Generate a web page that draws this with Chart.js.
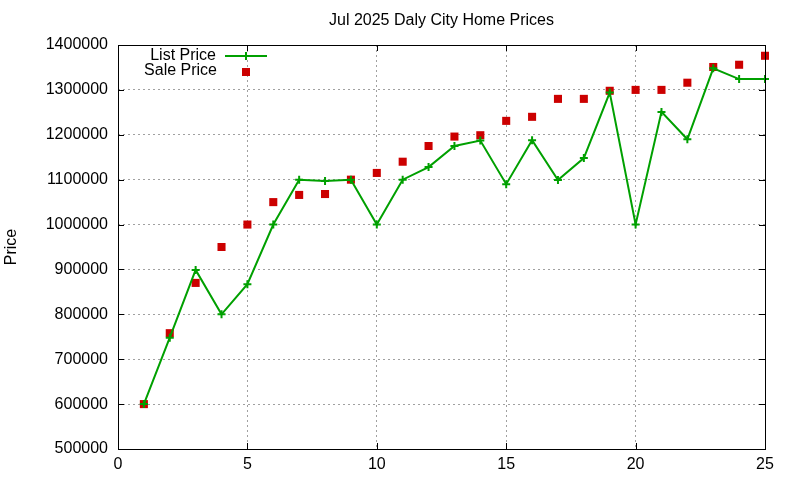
<!DOCTYPE html>
<html>
<head>
<meta charset="utf-8">
<script src="https://cdn.jsdelivr.net/npm/chart.js@4"></script>
<style>
  html, body { margin: 0; padding: 0; background: #fff; }
  #wrap { width: 800px; height: 480px; }
</style>
</head>
<body>
<div id="wrap"><canvas id="chart"></canvas></div>
<script>
// month day index
const days = [1, 2, 3, 4, 5, 6, 7, 8, 9, 10, 11, 12, 13, 14, 15, 16, 17, 18, 19, 20, 21, 22, 23, 24, 25]
const listPrice = [600000, 748000, 899000, 800000, 867000, 1000000, 1100000, 1097000, 1100000, 1000000,
    1100000, 1128000, 1175000, 1187000, 1090000, 1188000, 1099000, 1148000, 1294000, 1000000,
    1251000, 1190000, 1348000, 1324000, 1324000]
const salePrice = [600000, 758000, 870000, 950000, 1000000, 1050000, 1066000, 1068000, 1100000, 1115000,
    1140000, 1175000, 1196000, 1199000, 1231000, 1240000, 1280000, 1280000, 1298000, 1300000,
    1300000, 1316000, 1351000, 1356000, 1376000]
const yTicks = [500000, 600000, 700000, 800000, 900000, 1000000, 1100000, 1200000, 1300000, 1400000]
const xTicks = [0, 5, 10, 15, 20, 25]
const chartTitle = 'Jul 2025 Daly City Home Prices'

const FONT = 'Liberation Sans, Arial, sans-serif'
const GREEN = '#00a000'
const RED = '#cc0000'

const toPoints = vals => vals.map((v, i) => ({ x: days[i], y: v }))

// gnuplot style: title centred over the plot, solid frame, inward ticks, key top left
const framePlugin = {
    id: 'frame',
    afterDatasetsDraw(chart) {
        const { ctx, chartArea: a, scales } = chart
        ctx.save()
        ctx.font = '16px ' + FONT
        ctx.fillStyle = '#000'
        ctx.textAlign = 'center'
        ctx.textBaseline = 'middle'
        ctx.fillText(chartTitle, (a.left + a.right) / 2, 21)

        ctx.strokeStyle = '#000'
        ctx.lineWidth = 1
        ctx.strokeRect(a.left + 0.5, a.top + 0.5, a.right - a.left, a.bottom - a.top)
        ctx.beginPath()
        yTicks.forEach(t => {
            const y = Math.round(scales.y.getPixelForValue(t)) + 0.5
            ctx.moveTo(a.left, y); ctx.lineTo(a.left + 6, y)
            ctx.moveTo(a.right, y); ctx.lineTo(a.right - 6, y)
        })
        xTicks.forEach(t => {
            const x = Math.round(scales.x.getPixelForValue(t)) + 0.5
            ctx.moveTo(x, a.bottom); ctx.lineTo(x, a.bottom - 6)
            ctx.moveTo(x, a.top); ctx.lineTo(x, a.top + 6)
        })
        ctx.stroke()

        // key
        ctx.textAlign = 'right'
        ctx.fillText(chart.data.datasets[0].label, 216, 56)
        ctx.fillText(chart.data.datasets[1].label, 217, 71)

        ctx.strokeStyle = GREEN
        ctx.lineWidth = 2
        ctx.beginPath()
        ctx.moveTo(225, 56); ctx.lineTo(267, 56)
        ctx.moveTo(246, 52); ctx.lineTo(246, 60)
        ctx.stroke()
        ctx.fillStyle = RED
        ctx.fillRect(242, 68, 8, 8)
        ctx.restore()
    }
}

const ctx = document.getElementById('chart').getContext('2d')
const myChart = new Chart(ctx, {
    type: 'scatter',
    data: {
        datasets: [{
            label: 'List Price',
            data: toPoints(listPrice),
            showLine: true,
            borderColor: GREEN,
            backgroundColor: GREEN,
            borderWidth: 2,
            pointStyle: 'cross',
            pointRadius: 4,
            pointBorderWidth: 2,
            pointBorderColor: GREEN,
            tension: 0,
            clip: false
        }, {
            label: 'Sale Price',
            data: toPoints(salePrice),
            showLine: false,
            backgroundColor: RED,
            borderColor: RED,
            borderWidth: 0,
            pointStyle: 'rect',
            pointRadius: 5.7,
            pointBorderWidth: 0,
            clip: false
        }]
    },
    options: {
        responsive: true,
        maintainAspectRatio: false,
        animation: false,
        devicePixelRatio: 1,
        layout: { padding: { top: 45, right: 35, bottom: 0, left: 0 } },
        plugins: {
            legend: { display: false },
            tooltip: { enabled: false },
            title: { display: false }
        },
        scales: {
            x: {
                type: 'linear',
                min: 0,
                max: 25,
                afterBuildTicks: scale => { scale.ticks = xTicks.map(v => ({ value: v })) },
                afterFit: scale => { scale.height = 31 },
                border: { display: false, dash: [2, 3] },
                grid: {
                    color: c => (c.tick.value === 0 || c.tick.value === 25) ? 'rgba(0,0,0,0)' : '#a0a0a0',
                    lineWidth: 1,
                    drawTicks: false
                },
                ticks: {
                    color: '#000',
                    font: { family: FONT, size: 16 },
                    padding: 6,
                    maxRotation: 0
                }
            },
            y: {
                type: 'linear',
                min: 500000,
                max: 1400000,
                afterBuildTicks: scale => { scale.ticks = yTicks.map(v => ({ value: v })) },
                afterFit: scale => { scale.width = 118 },
                border: { display: false, dash: [2, 3] },
                grid: {
                    color: c => (c.tick.value === 500000 || c.tick.value === 1400000) ? 'rgba(0,0,0,0)' : '#a0a0a0',
                    lineWidth: 1,
                    drawTicks: false
                },
                ticks: {
                    color: '#000',
                    font: { family: FONT, size: 16 },
                    padding: 10,
                    callback: v => String(v)
                },
                title: {
                    display: true,
                    text: 'Price',
                    color: '#000',
                    font: { family: FONT, size: 16 },
                    padding: { top: 2, bottom: 0 }
                }
            }
        }
    },
    plugins: [framePlugin]
})
</script>
</body>
</html>
